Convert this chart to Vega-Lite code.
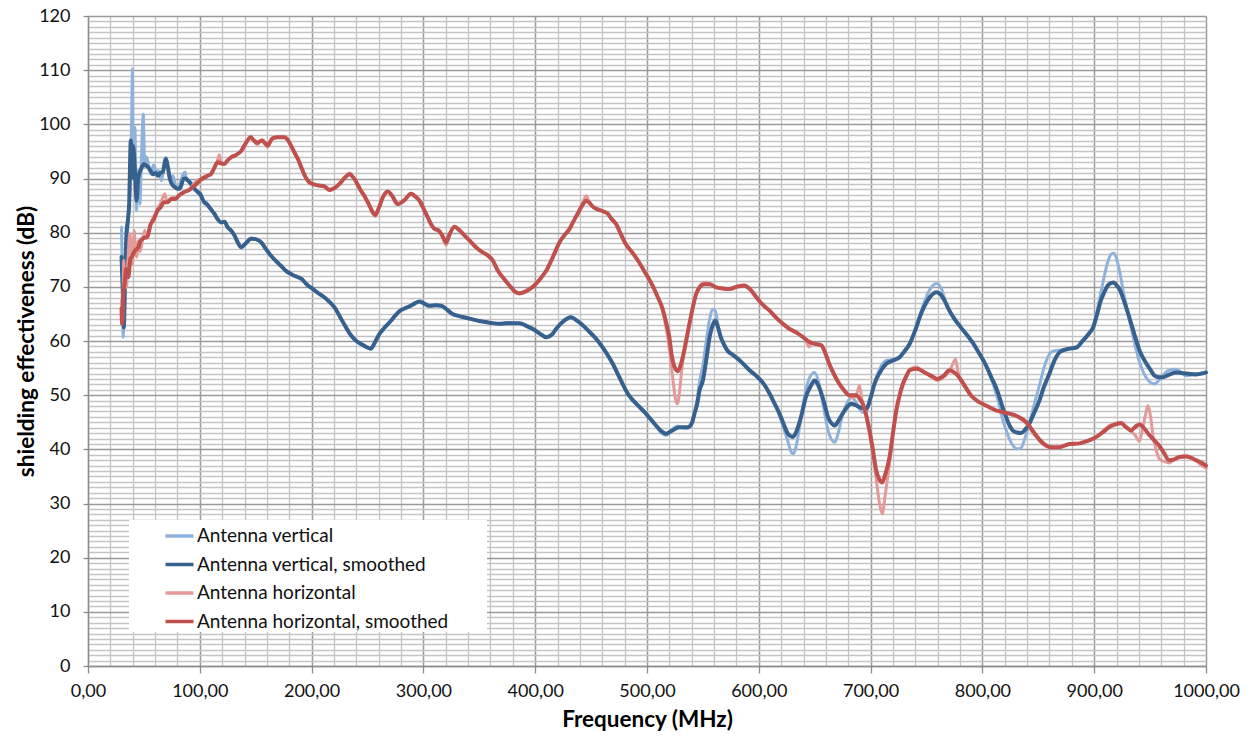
{
"$schema":"https://vega.github.io/schema/vega-lite/v6.json",
"width":1118,"height":650,
"autosize":{"type":"none"},
"padding":{"left":88,"top":16,"right":49,"bottom":71},
"background":"white",
"config":{"view":{"stroke":null},"font":"Lato"},
"datasets":{
"v":[{"f":30,"V":81},{"f":30.7,"V":72},{"f":31.5,"V":60.7},{"f":32.5,"V":68},{"f":34,"V":71.8},{"f":35,"V":78},{"f":36,"V":82.2},{"f":37.4,"V":87.2},{"f":38.2,"V":94},{"f":38.9,"V":99.4},{"f":39.8,"V":110.2},{"f":40.4,"V":93.3},{"f":41.2,"V":96},{"f":42,"V":99.4},{"f":42.7,"V":90},{"f":43.4,"V":84.1},{"f":44.2,"V":89},{"f":45,"V":91.5},{"f":46.4,"V":85.3},{"f":47.9,"V":94.5},{"f":49.4,"V":101.9},{"f":50.8,"V":92.1},{"f":52,"V":94},{"f":53,"V":93.6},{"f":55,"V":91.5},{"f":56.8,"V":90.8},{"f":58.3,"V":92.5},{"f":59.8,"V":92.1},{"f":61.3,"V":90.5},{"f":62.8,"V":91.5},{"f":65.7,"V":89.6},{"f":67.5,"V":91.5},{"f":69.6,"V":93.9},{"f":71.5,"V":92},{"f":73.2,"V":89.6},{"f":76,"V":90.5},{"f":79,"V":88.4},{"f":82,"V":89},{"f":85,"V":90.8},{"f":87,"V":91.2},{"f":88,"V":89.6},{"f":91,"V":89.5},{"f":94,"V":88.7},{"f":97,"V":87.8},{"f":100,"V":87.5},{"f":103,"V":86},{"f":106,"V":85.6},{"f":110,"V":84.4},{"f":113,"V":83.5},{"f":116,"V":82.4},{"f":119,"V":81.8},{"f":122,"V":82.1},{"f":125,"V":80.9},{"f":128,"V":80.3},{"f":131,"V":79.4},{"f":134,"V":78},{"f":137,"V":77.2},{"f":141,"V":78.1},{"f":146,"V":79},{"f":150,"V":78.8},{"f":155,"V":78.1},{"f":159,"V":77.1},{"f":163.5,"V":75.8},{"f":168,"V":74.8},{"f":172.5,"V":73.9},{"f":178,"V":72.7},{"f":184,"V":72.1},{"f":190.7,"V":71.5},{"f":196,"V":70.4},{"f":201,"V":69.6},{"f":207,"V":68.7},{"f":213,"V":67.8},{"f":220.5,"V":66.2},{"f":228,"V":63.4},{"f":235.4,"V":60.9},{"f":240,"V":60},{"f":244,"V":59.5},{"f":249,"V":58.9},{"f":253,"V":58.5},{"f":256,"V":59.5},{"f":260.7,"V":61.3},{"f":265,"V":62.4},{"f":270,"V":63.5},{"f":274,"V":64.5},{"f":278.6,"V":65.6},{"f":283,"V":66},{"f":287.6,"V":66.4},{"f":292,"V":67},{"f":296.5,"V":67.3},{"f":300,"V":67},{"f":305.5,"V":66.4},{"f":311,"V":66.7},{"f":316,"V":66.5},{"f":321,"V":65.8},{"f":326,"V":65},{"f":332,"V":64.6},{"f":338,"V":64.3},{"f":344,"V":64},{"f":350,"V":63.7},{"f":356,"V":63.5},{"f":362,"V":63.3},{"f":368,"V":63.1},{"f":375,"V":63.4},{"f":381,"V":63.3},{"f":386,"V":63.2},{"f":392,"V":62.8},{"f":398,"V":62.1},{"f":404,"V":61.3},{"f":410,"V":60.6},{"f":415,"V":61.2},{"f":419,"V":62.3},{"f":425,"V":63.7},{"f":432,"V":64.5},{"f":437,"V":63.8},{"f":442.6,"V":62.9},{"f":448,"V":61.7},{"f":454.5,"V":60.4},{"f":462,"V":58.3},{"f":469.4,"V":55.7},{"f":476,"V":53},{"f":484,"V":49.8},{"f":491,"V":48.3},{"f":499,"V":46.5},{"f":508,"V":44.3},{"f":513,"V":43},{"f":517,"V":42.6},{"f":522,"V":43.6},{"f":527,"V":44.3},{"f":531,"V":44},{"f":536.5,"V":43.9},{"f":540,"V":44.6},{"f":542.5,"V":46.8},{"f":545,"V":49.5},{"f":547,"V":52.5},{"f":550,"V":55.5},{"f":553,"V":60},{"f":556,"V":64},{"f":558.5,"V":65.8},{"f":561,"V":65.6},{"f":563.5,"V":63},{"f":566,"V":60.5},{"f":569,"V":59.4},{"f":572,"V":58.3},{"f":577,"V":57.4},{"f":583,"V":56.4},{"f":587,"V":55.6},{"f":591.7,"V":54.6},{"f":597,"V":53.7},{"f":602,"V":52.7},{"f":606,"V":51.6},{"f":609.6,"V":50.3},{"f":614,"V":48.4},{"f":618.5,"V":46.3},{"f":622,"V":44},{"f":626,"V":41.5},{"f":629,"V":39.5},{"f":631,"V":39.2},{"f":633,"V":40.2},{"f":636,"V":43.5},{"f":639,"V":47.5},{"f":642,"V":50.8},{"f":646,"V":53.5},{"f":650,"V":54.2},{"f":653,"V":52.8},{"f":656,"V":50},{"f":659,"V":46.5},{"f":662,"V":43.5},{"f":665,"V":41.8},{"f":668,"V":41.3},{"f":671,"V":43},{"f":675,"V":46.5},{"f":679,"V":48.6},{"f":683,"V":49.6},{"f":686,"V":49},{"f":690,"V":47.5},{"f":693,"V":46.8},{"f":696,"V":46.9},{"f":700,"V":49.5},{"f":703.5,"V":52.3},{"f":708,"V":54.8},{"f":714,"V":56.4},{"f":720,"V":56.6},{"f":726,"V":57.1},{"f":730,"V":58},{"f":735,"V":59.5},{"f":740,"V":62.2},{"f":744,"V":64.8},{"f":748,"V":67.2},{"f":753,"V":69.5},{"f":759,"V":70.6},{"f":763,"V":69.8},{"f":766,"V":68},{"f":770,"V":65.8},{"f":775,"V":64},{"f":780,"V":62.7},{"f":785.5,"V":61.3},{"f":791,"V":59.8},{"f":797.5,"V":57.6},{"f":803,"V":55.5},{"f":808,"V":53},{"f":812,"V":50.5},{"f":815.3,"V":48},{"f":818,"V":45.6},{"f":821.3,"V":43.5},{"f":824,"V":42},{"f":827,"V":40.8},{"f":831,"V":40.1},{"f":834.7,"V":40.3},{"f":838,"V":42},{"f":842,"V":44.8},{"f":846,"V":48},{"f":851,"V":51.8},{"f":855,"V":55},{"f":860,"V":57.6},{"f":864,"V":58.2},{"f":869,"V":58.3},{"f":874,"V":58.4},{"f":878,"V":58.6},{"f":884,"V":58.8},{"f":890,"V":60},{"f":895,"V":61.2},{"f":899,"V":62.5},{"f":902,"V":65},{"f":906,"V":69},{"f":909,"V":72},{"f":912,"V":74.5},{"f":915,"V":76},{"f":917.6,"V":76.2},{"f":920,"V":75.2},{"f":922.6,"V":73},{"f":926,"V":69.2},{"f":930,"V":65.3},{"f":934,"V":61.5},{"f":937.6,"V":58.3},{"f":941,"V":55.8},{"f":945,"V":53.8},{"f":950,"V":52.4},{"f":954,"V":52.1},{"f":958,"V":52.8},{"f":961,"V":53.6},{"f":967,"V":54.6},{"f":973,"V":54.8},{"f":978,"V":54.2},{"f":982,"V":53.6},{"f":987,"V":53.7},{"f":991,"V":54},{"f":996,"V":54},{"f":1000,"V":54.1}],
"vs":[{"f":30,"Vs":75.5},{"f":31,"Vs":70},{"f":32,"Vs":62.5},{"f":33,"Vs":70},{"f":34.4,"Vs":79.8},{"f":35.5,"Vs":82},{"f":36.8,"Vs":85.3},{"f":38.3,"Vs":97},{"f":39.5,"Vs":90.2},{"f":40.3,"Vs":96},{"f":41.3,"Vs":93.9},{"f":42.3,"Vs":90},{"f":43.4,"Vs":85.9},{"f":45,"Vs":90.2},{"f":47,"Vs":91.5},{"f":50,"Vs":92.7},{"f":52,"Vs":92.4},{"f":53.8,"Vs":92.1},{"f":56,"Vs":91.4},{"f":58.3,"Vs":90.8},{"f":60.6,"Vs":91},{"f":62.8,"Vs":90.5},{"f":65,"Vs":91.1},{"f":66.6,"Vs":91.1},{"f":69.6,"Vs":93.6},{"f":71.5,"Vs":92},{"f":73.2,"Vs":90},{"f":75,"Vs":89},{"f":77.7,"Vs":88.4},{"f":80,"Vs":88.1},{"f":82,"Vs":88.1},{"f":85.7,"Vs":90},{"f":87.5,"Vs":90},{"f":89.6,"Vs":89.6},{"f":92,"Vs":89},{"f":94,"Vs":88.4},{"f":98,"Vs":87.5},{"f":100,"Vs":87.2},{"f":104,"Vs":85.6},{"f":106,"Vs":85.3},{"f":110,"Vs":84.3},{"f":113,"Vs":83.5},{"f":116,"Vs":82.5},{"f":119,"Vs":81.9},{"f":122,"Vs":82},{"f":125,"Vs":81},{"f":128,"Vs":80.4},{"f":131,"Vs":79.5},{"f":134,"Vs":78.2},{"f":137,"Vs":77.3},{"f":141,"Vs":78},{"f":146,"Vs":78.9},{"f":150,"Vs":78.8},{"f":155,"Vs":78.2},{"f":159,"Vs":77},{"f":163.5,"Vs":75.8},{"f":168,"Vs":74.8},{"f":172.5,"Vs":73.9},{"f":178,"Vs":72.8},{"f":184,"Vs":72.1},{"f":190.7,"Vs":71.5},{"f":196,"Vs":70.4},{"f":201,"Vs":69.6},{"f":207,"Vs":68.7},{"f":213,"Vs":67.8},{"f":220.5,"Vs":66.2},{"f":228,"Vs":63.5},{"f":235.4,"Vs":61},{"f":240,"Vs":60},{"f":244,"Vs":59.5},{"f":249,"Vs":58.9},{"f":253,"Vs":58.6},{"f":256,"Vs":59.5},{"f":260.7,"Vs":61.3},{"f":265,"Vs":62.4},{"f":270,"Vs":63.5},{"f":274,"Vs":64.5},{"f":278.6,"Vs":65.5},{"f":283,"Vs":66},{"f":287.6,"Vs":66.4},{"f":292,"Vs":66.9},{"f":296.5,"Vs":67.3},{"f":300,"Vs":67},{"f":305.5,"Vs":66.5},{"f":311,"Vs":66.6},{"f":316,"Vs":66.5},{"f":321,"Vs":65.8},{"f":326,"Vs":65},{"f":332,"Vs":64.6},{"f":338,"Vs":64.3},{"f":344,"Vs":64},{"f":350,"Vs":63.7},{"f":356,"Vs":63.5},{"f":362,"Vs":63.3},{"f":368,"Vs":63.2},{"f":375,"Vs":63.3},{"f":381,"Vs":63.3},{"f":386,"Vs":63.3},{"f":392,"Vs":62.8},{"f":398,"Vs":62.2},{"f":404,"Vs":61.4},{"f":410,"Vs":60.7},{"f":415,"Vs":61.2},{"f":419,"Vs":62.3},{"f":425,"Vs":63.6},{"f":432,"Vs":64.4},{"f":437,"Vs":63.8},{"f":442.6,"Vs":62.9},{"f":448,"Vs":61.8},{"f":454.5,"Vs":60.4},{"f":462,"Vs":58.3},{"f":469.4,"Vs":55.8},{"f":476,"Vs":53},{"f":484,"Vs":49.9},{"f":491,"Vs":48.3},{"f":499,"Vs":46.6},{"f":508,"Vs":44.4},{"f":513,"Vs":43.3},{"f":517,"Vs":42.9},{"f":522,"Vs":43.4},{"f":529,"Vs":44.1},{"f":536.5,"Vs":44.1},{"f":540,"Vs":44.8},{"f":542.5,"Vs":46.6},{"f":545,"Vs":48.5},{"f":547,"Vs":50.9},{"f":550,"Vs":52.7},{"f":553,"Vs":56.5},{"f":556,"Vs":60.7},{"f":558.5,"Vs":62.8},{"f":561,"Vs":63.8},{"f":563.5,"Vs":62.5},{"f":566,"Vs":60.7},{"f":569,"Vs":59.3},{"f":572,"Vs":58.2},{"f":577,"Vs":57.4},{"f":583,"Vs":56.4},{"f":587,"Vs":55.6},{"f":591.7,"Vs":54.6},{"f":597,"Vs":53.7},{"f":602,"Vs":52.7},{"f":606,"Vs":51.6},{"f":609.6,"Vs":50.3},{"f":614,"Vs":48.5},{"f":618.5,"Vs":46.6},{"f":622,"Vs":44.8},{"f":626,"Vs":42.9},{"f":630.4,"Vs":42.3},{"f":633,"Vs":43},{"f":636,"Vs":44.7},{"f":639,"Vs":47},{"f":642,"Vs":49.6},{"f":646,"Vs":51.5},{"f":650,"Vs":52.7},{"f":653,"Vs":51.9},{"f":656,"Vs":50.3},{"f":659,"Vs":48.2},{"f":662,"Vs":45.9},{"f":665,"Vs":44.8},{"f":668,"Vs":44.4},{"f":671,"Vs":45.2},{"f":675,"Vs":46.6},{"f":679,"Vs":47.8},{"f":682.6,"Vs":48.4},{"f":686,"Vs":48.2},{"f":690,"Vs":47.8},{"f":693,"Vs":47.6},{"f":696,"Vs":47.5},{"f":700,"Vs":49.5},{"f":703.5,"Vs":52.1},{"f":708,"Vs":54.1},{"f":714,"Vs":55.8},{"f":720,"Vs":56.4},{"f":726,"Vs":57},{"f":730,"Vs":58},{"f":735,"Vs":59.5},{"f":740,"Vs":62},{"f":744,"Vs":64.4},{"f":748,"Vs":66.4},{"f":753,"Vs":68.1},{"f":759,"Vs":69},{"f":763,"Vs":68.5},{"f":766,"Vs":67.5},{"f":770,"Vs":65.8},{"f":775,"Vs":64.1},{"f":780,"Vs":62.7},{"f":785.5,"Vs":61.3},{"f":791,"Vs":59.8},{"f":797.5,"Vs":57.6},{"f":803,"Vs":55.6},{"f":808,"Vs":53.3},{"f":812,"Vs":51.5},{"f":815.3,"Vs":49.6},{"f":818,"Vs":47.8},{"f":821.3,"Vs":45.9},{"f":824,"Vs":44.5},{"f":827,"Vs":43.5},{"f":831,"Vs":43.1},{"f":834.7,"Vs":43},{"f":838,"Vs":43.6},{"f":842,"Vs":44.7},{"f":846,"Vs":46.6},{"f":851,"Vs":49},{"f":855,"Vs":51.5},{"f":860,"Vs":54},{"f":864,"Vs":56.2},{"f":869,"Vs":57.9},{"f":874,"Vs":58.4},{"f":878,"Vs":58.6},{"f":884,"Vs":58.8},{"f":890,"Vs":60.1},{"f":895,"Vs":61.3},{"f":899,"Vs":62.5},{"f":902,"Vs":64.5},{"f":906,"Vs":67.5},{"f":909,"Vs":69},{"f":912,"Vs":70.2},{"f":915,"Vs":70.7},{"f":917.6,"Vs":70.8},{"f":920,"Vs":70.3},{"f":922.6,"Vs":69.6},{"f":926,"Vs":67.8},{"f":930,"Vs":65.3},{"f":934,"Vs":62.6},{"f":937.6,"Vs":60.1},{"f":941,"Vs":58},{"f":945,"Vs":56.4},{"f":950,"Vs":54.8},{"f":954,"Vs":53.6},{"f":958,"Vs":53.3},{"f":961,"Vs":53.3},{"f":967,"Vs":53.8},{"f":973,"Vs":54.2},{"f":978,"Vs":54.1},{"f":982,"Vs":54},{"f":987,"Vs":53.9},{"f":991,"Vs":53.8},{"f":996,"Vs":54},{"f":1000,"Vs":54.2}],
"h":[{"f":30,"H":67.5},{"f":31,"H":63.8},{"f":32,"H":74.9},{"f":33,"H":70},{"f":34.4,"H":69.9},{"f":35.5,"H":74},{"f":37.4,"H":79.8},{"f":38.5,"H":77},{"f":39.8,"H":74.2},{"f":41.3,"H":80.4},{"f":42.3,"H":77},{"f":43.4,"H":75.5},{"f":45,"H":78.5},{"f":46.5,"H":76.5},{"f":47.9,"H":77.6},{"f":49.5,"H":79.5},{"f":50.8,"H":80.4},{"f":52.3,"H":79},{"f":53.8,"H":80.1},{"f":56,"H":81.5},{"f":58.3,"H":82.8},{"f":60,"H":83.3},{"f":62.8,"H":84.7},{"f":65,"H":85.5},{"f":68.7,"H":87.2},{"f":70.5,"H":85.8},{"f":73.2,"H":86.2},{"f":76,"H":86.5},{"f":79,"H":86.5},{"f":82,"H":87},{"f":85,"H":87.2},{"f":88,"H":87.8},{"f":91,"H":88},{"f":94,"H":88.8},{"f":97,"H":89.6},{"f":100,"H":89.8},{"f":104,"H":90.4},{"f":108,"H":90.6},{"f":112,"H":91.5},{"f":115,"H":92.8},{"f":117.5,"H":94.4},{"f":119,"H":92.7},{"f":122,"H":92.6},{"f":125,"H":93.3},{"f":128,"H":94},{"f":132,"H":94.3},{"f":137,"H":95},{"f":141,"H":96.3},{"f":145.6,"H":97.7},{"f":148,"H":97},{"f":151.6,"H":96.3},{"f":154,"H":96.8},{"f":156,"H":97.1},{"f":158,"H":96.4},{"f":160.6,"H":95.8},{"f":163,"H":96.7},{"f":165,"H":97.5},{"f":170,"H":97.7},{"f":175.5,"H":97.6},{"f":178,"H":97.2},{"f":181,"H":96.3},{"f":184.7,"H":94.7},{"f":188,"H":93.4},{"f":190.7,"H":92},{"f":194,"H":90.4},{"f":198,"H":89.2},{"f":202,"H":89},{"f":207,"H":88.6},{"f":211,"H":88.7},{"f":216,"H":87.8},{"f":220,"H":88.2},{"f":225,"H":89.1},{"f":229,"H":90},{"f":233.9,"H":91},{"f":238,"H":90},{"f":244,"H":87.7},{"f":248,"H":86.4},{"f":251.8,"H":84.9},{"f":254,"H":83.8},{"f":257,"H":83},{"f":260,"H":84.5},{"f":263.7,"H":86.6},{"f":268,"H":87.7},{"f":272,"H":86.8},{"f":277,"H":85.2},{"f":283,"H":86},{"f":289,"H":87.3},{"f":292,"H":86.8},{"f":296.5,"H":85.8},{"f":300,"H":84.4},{"f":304,"H":82.7},{"f":307,"H":81.4},{"f":310,"H":80.6},{"f":313,"H":80.4},{"f":316,"H":79.6},{"f":318,"H":78.6},{"f":320.4,"H":77.7},{"f":323,"H":79.3},{"f":327.8,"H":81.2},{"f":332,"H":80.5},{"f":336.8,"H":79.4},{"f":342,"H":78.4},{"f":347,"H":77.3},{"f":352,"H":76.5},{"f":357.6,"H":75.7},{"f":362,"H":74.8},{"f":366.5,"H":73},{"f":370,"H":72},{"f":374,"H":70.9},{"f":378,"H":69.9},{"f":382,"H":69},{"f":386,"H":68.7},{"f":392,"H":69.2},{"f":399,"H":70.3},{"f":405,"H":71.6},{"f":410,"H":73.1},{"f":416,"H":75.6},{"f":421.7,"H":78.3},{"f":426,"H":79.5},{"f":430.7,"H":80.7},{"f":434,"H":82.1},{"f":438,"H":83.6},{"f":442,"H":85.2},{"f":445.6,"H":86.8},{"f":448,"H":85.9},{"f":451,"H":84.9},{"f":454.6,"H":84.3},{"f":460,"H":84},{"f":465,"H":83.4},{"f":468,"H":82.6},{"f":472.4,"H":81.5},{"f":476,"H":80},{"f":481,"H":77.9},{"f":487,"H":76.3},{"f":493,"H":74.5},{"f":499,"H":72.4},{"f":505,"H":70.2},{"f":509,"H":68.3},{"f":514,"H":65.5},{"f":517,"H":62.5},{"f":520,"H":58.5},{"f":522,"H":55},{"f":524,"H":51.5},{"f":526,"H":48.8},{"f":527.5,"H":48.4},{"f":529,"H":50.5},{"f":531,"H":54.5},{"f":533,"H":57.8},{"f":535,"H":60.3},{"f":538,"H":63.5},{"f":541,"H":66.4},{"f":544,"H":68.9},{"f":547.5,"H":70.3},{"f":551,"H":70.8},{"f":556,"H":70.6},{"f":562,"H":69.8},{"f":568,"H":69.6},{"f":574,"H":69.7},{"f":580,"H":70.1},{"f":587,"H":70.4},{"f":592,"H":69.6},{"f":597.7,"H":68},{"f":603,"H":66.8},{"f":609.6,"H":65.6},{"f":615,"H":64.4},{"f":621.5,"H":63.1},{"f":627,"H":62.4},{"f":633.5,"H":61.5},{"f":639,"H":60.8},{"f":642,"H":60.2},{"f":645,"H":58.9},{"f":648,"H":59.7},{"f":652,"H":59.4},{"f":656,"H":59.2},{"f":660,"H":57.3},{"f":663,"H":55.6},{"f":667,"H":53.8},{"f":672,"H":52},{"f":676,"H":50.8},{"f":681,"H":49.8},{"f":684,"H":49.5},{"f":688,"H":50.5},{"f":690,"H":51.8},{"f":692,"H":49.5},{"f":696,"H":46},{"f":699,"H":43},{"f":702,"H":39},{"f":705,"H":34.5},{"f":708,"H":30},{"f":710.4,"H":28.1},{"f":713,"H":31.5},{"f":717,"H":37.5},{"f":720,"H":43},{"f":723,"H":47.5},{"f":726,"H":50.3},{"f":729,"H":52.4},{"f":732,"H":53.7},{"f":735,"H":54.8},{"f":741,"H":55.2},{"f":745,"H":54.7},{"f":750,"H":54},{"f":755,"H":53.2},{"f":760,"H":52.7},{"f":765,"H":53.3},{"f":770,"H":54.3},{"f":773,"H":55.5},{"f":776,"H":56.7},{"f":778,"H":54.5},{"f":781,"H":52.5},{"f":784,"H":51.5},{"f":790,"H":49.9},{"f":795,"H":49},{"f":800,"H":48.4},{"f":806,"H":47.8},{"f":812,"H":47.2},{"f":818,"H":46.9},{"f":824,"H":46.6},{"f":829,"H":46.3},{"f":833,"H":45.9},{"f":837,"H":45.2},{"f":840.6,"H":44.6},{"f":844,"H":43.4},{"f":848,"H":42.3},{"f":852,"H":41.3},{"f":857,"H":40.6},{"f":862,"H":40.3},{"f":869,"H":40.4},{"f":878,"H":41},{"f":887,"H":41.1},{"f":890,"H":41.3},{"f":896,"H":41.7},{"f":902,"H":42.3},{"f":908,"H":43.4},{"f":913.6,"H":44.4},{"f":919,"H":44.8},{"f":924,"H":45},{"f":928,"H":44.2},{"f":933,"H":43.3},{"f":937,"H":42.5},{"f":940.5,"H":41.5},{"f":943,"H":43.5},{"f":946,"H":46.5},{"f":948,"H":48.1},{"f":950,"H":46.5},{"f":953,"H":42},{"f":956,"H":39.5},{"f":958,"H":38.3},{"f":962,"H":37.8},{"f":967,"H":37.5},{"f":971,"H":38},{"f":976.4,"H":38.7},{"f":982,"H":38.8},{"f":987,"H":38.5},{"f":991,"H":38},{"f":996,"H":37},{"f":1000,"H":36.5}],
"hs":[{"f":30,"Hs":66},{"f":30.5,"Hs":63.2},{"f":31.5,"Hs":68.7},{"f":33,"Hs":71},{"f":34,"Hs":73.3},{"f":36,"Hs":71.8},{"f":38,"Hs":75.2},{"f":39,"Hs":75.5},{"f":42,"Hs":76.7},{"f":45,"Hs":77.3},{"f":47,"Hs":78.5},{"f":50,"Hs":79},{"f":53,"Hs":79.2},{"f":56,"Hs":81.5},{"f":59,"Hs":82.5},{"f":62,"Hs":84},{"f":65,"Hs":84.7},{"f":68,"Hs":85.6},{"f":71,"Hs":85.6},{"f":74.7,"Hs":86.2},{"f":78.5,"Hs":86.2},{"f":81,"Hs":86.8},{"f":86,"Hs":87.5},{"f":90,"Hs":87.8},{"f":93.5,"Hs":88.4},{"f":97,"Hs":89},{"f":101,"Hs":89.8},{"f":104.5,"Hs":90.2},{"f":108,"Hs":90.6},{"f":110,"Hs":90.8},{"f":113,"Hs":92},{"f":116,"Hs":93},{"f":119,"Hs":92.8},{"f":122,"Hs":92.7},{"f":125,"Hs":93.4},{"f":128,"Hs":93.9},{"f":132,"Hs":94.3},{"f":137,"Hs":95.1},{"f":141,"Hs":96.5},{"f":145.6,"Hs":97.6},{"f":148,"Hs":97.1},{"f":151.6,"Hs":96.6},{"f":154,"Hs":96.9},{"f":156,"Hs":97},{"f":158,"Hs":96.6},{"f":160.6,"Hs":96.1},{"f":163,"Hs":96.8},{"f":165,"Hs":97.4},{"f":170,"Hs":97.6},{"f":175.5,"Hs":97.6},{"f":178,"Hs":97.3},{"f":181,"Hs":96.3},{"f":184.7,"Hs":94.8},{"f":188,"Hs":93.5},{"f":190.7,"Hs":92.1},{"f":194,"Hs":90.5},{"f":198,"Hs":89.3},{"f":202,"Hs":88.9},{"f":207,"Hs":88.7},{"f":211,"Hs":88.6},{"f":216,"Hs":87.9},{"f":220,"Hs":88.2},{"f":225,"Hs":89},{"f":229,"Hs":90},{"f":233.9,"Hs":90.8},{"f":238,"Hs":90},{"f":244,"Hs":87.8},{"f":248,"Hs":86.5},{"f":251.8,"Hs":85},{"f":254,"Hs":84},{"f":257,"Hs":83.3},{"f":260,"Hs":84.5},{"f":263.7,"Hs":86.5},{"f":268,"Hs":87.6},{"f":272,"Hs":86.8},{"f":277,"Hs":85.3},{"f":283,"Hs":86},{"f":289,"Hs":87.2},{"f":292,"Hs":86.8},{"f":296.5,"Hs":85.9},{"f":300,"Hs":84.5},{"f":304,"Hs":82.8},{"f":307,"Hs":81.5},{"f":310,"Hs":80.7},{"f":313,"Hs":80.5},{"f":316,"Hs":79.8},{"f":318,"Hs":79},{"f":320.4,"Hs":78.2},{"f":323,"Hs":79.5},{"f":327.8,"Hs":81.1},{"f":332,"Hs":80.5},{"f":336.8,"Hs":79.5},{"f":342,"Hs":78.4},{"f":347,"Hs":77.3},{"f":352,"Hs":76.5},{"f":357.6,"Hs":75.8},{"f":362,"Hs":74.9},{"f":366.5,"Hs":73},{"f":370,"Hs":72},{"f":374,"Hs":71},{"f":378,"Hs":70},{"f":382,"Hs":69.1},{"f":386,"Hs":68.8},{"f":392,"Hs":69.2},{"f":399,"Hs":70.2},{"f":405,"Hs":71.6},{"f":410,"Hs":73},{"f":416,"Hs":75.6},{"f":421.7,"Hs":78.2},{"f":426,"Hs":79.5},{"f":430.7,"Hs":80.7},{"f":434,"Hs":82},{"f":438,"Hs":83.5},{"f":442,"Hs":85},{"f":445.6,"Hs":85.9},{"f":448,"Hs":85.6},{"f":451,"Hs":84.9},{"f":454.6,"Hs":84.4},{"f":460,"Hs":84},{"f":465,"Hs":83.5},{"f":468,"Hs":82.6},{"f":472.4,"Hs":81.6},{"f":476,"Hs":80},{"f":481,"Hs":77.9},{"f":487,"Hs":76.3},{"f":493,"Hs":74.5},{"f":499,"Hs":72.4},{"f":505,"Hs":70.2},{"f":509,"Hs":68.4},{"f":514,"Hs":65.9},{"f":517,"Hs":63.5},{"f":520,"Hs":60.7},{"f":522,"Hs":57.5},{"f":523.7,"Hs":55.8},{"f":525.5,"Hs":54.8},{"f":527.5,"Hs":54.4},{"f":529.5,"Hs":55.2},{"f":532,"Hs":57},{"f":535,"Hs":60},{"f":538,"Hs":63.2},{"f":541,"Hs":66.2},{"f":544,"Hs":68.7},{"f":547.5,"Hs":70},{"f":551,"Hs":70.5},{"f":556,"Hs":70.5},{"f":562,"Hs":69.9},{"f":568,"Hs":69.7},{"f":574,"Hs":69.6},{"f":580,"Hs":70},{"f":587,"Hs":70.2},{"f":592,"Hs":69.6},{"f":597.7,"Hs":68.1},{"f":603,"Hs":66.8},{"f":609.6,"Hs":65.6},{"f":615,"Hs":64.4},{"f":621.5,"Hs":63.2},{"f":627,"Hs":62.3},{"f":633.5,"Hs":61.6},{"f":639,"Hs":60.8},{"f":645.4,"Hs":59.8},{"f":650,"Hs":59.5},{"f":656,"Hs":59.2},{"f":660,"Hs":57.5},{"f":663,"Hs":55.8},{"f":667,"Hs":54},{"f":672,"Hs":52.1},{"f":676,"Hs":51},{"f":681,"Hs":50},{"f":687,"Hs":50},{"f":690,"Hs":49.4},{"f":693,"Hs":48.4},{"f":696,"Hs":46.4},{"f":699,"Hs":43.5},{"f":702,"Hs":40},{"f":705,"Hs":36.1},{"f":708,"Hs":34.4},{"f":710.4,"Hs":33.9},{"f":713,"Hs":35.3},{"f":717,"Hs":38.6},{"f":720,"Hs":43},{"f":723,"Hs":47.2},{"f":726,"Hs":50},{"f":729,"Hs":52.1},{"f":732,"Hs":53.5},{"f":735,"Hs":54.6},{"f":741,"Hs":54.9},{"f":745,"Hs":54.6},{"f":750,"Hs":54},{"f":755,"Hs":53.5},{"f":760,"Hs":53},{"f":765,"Hs":53.5},{"f":770.6,"Hs":54.6},{"f":774,"Hs":54.3},{"f":778,"Hs":53.6},{"f":784,"Hs":51.8},{"f":790,"Hs":49.9},{"f":795,"Hs":49},{"f":800,"Hs":48.4},{"f":806,"Hs":47.8},{"f":812,"Hs":47.2},{"f":818,"Hs":46.9},{"f":824,"Hs":46.6},{"f":829,"Hs":46.3},{"f":833,"Hs":45.9},{"f":837,"Hs":45.4},{"f":840.6,"Hs":44.7},{"f":844,"Hs":43.7},{"f":848,"Hs":42.6},{"f":852,"Hs":41.6},{"f":857,"Hs":40.7},{"f":862,"Hs":40.4},{"f":869,"Hs":40.4},{"f":878,"Hs":41},{"f":887,"Hs":41.1},{"f":890,"Hs":41.3},{"f":896,"Hs":41.7},{"f":902,"Hs":42.3},{"f":908,"Hs":43.2},{"f":913.6,"Hs":44.1},{"f":919,"Hs":44.6},{"f":924,"Hs":44.8},{"f":928,"Hs":44.2},{"f":933,"Hs":43.5},{"f":937,"Hs":44.2},{"f":940.5,"Hs":44.6},{"f":945,"Hs":43.8},{"f":949.5,"Hs":42.6},{"f":954,"Hs":41.6},{"f":958,"Hs":40.7},{"f":962,"Hs":39.5},{"f":967,"Hs":38},{"f":971,"Hs":38.1},{"f":976.4,"Hs":38.6},{"f":982,"Hs":38.7},{"f":987,"Hs":38.4},{"f":991,"Hs":38},{"f":996,"Hs":37.5},{"f":1000,"Hs":37}]
},
"encoding":{
 "x":{"field":"f","type":"quantitative","scale":{"domain":[0,1000],"nice":false,"zero":false},
  "axis":{"values":[0,20,40,60,80,100,120,140,160,180,200,220,240,260,280,300,320,340,360,380,400,420,440,460,480,500,520,540,560,580,600,620,640,660,680,700,720,740,760,780,800,820,840,860,880,900,920,940,960,980,1000],
   "grid":true,
   "gridColor":{"condition":{"test":"datum.value % 100 === 0","value":"#999999"},"value":"#c4c4c4"},
   "gridWidth":{"condition":{"test":"datum.value % 100 === 0","value":1.5},"value":1.3},
   "labelExpr":"datum.value % 100 === 0 ? replace(format(datum.value,'.2f'),'.',',') : ''",
   "labelOverlap":false,"labelFlush":false,"labelFont":"Lato","labelFontSize":18,"labelColor":"#111111","labelPadding":9,
   "tickSize":7,"tickColor":"#8c8c8c","tickWidth":1.3,
   "tickOpacity":{"condition":{"test":"datum.value % 100 === 0","value":1},"value":0},
   "domain":true,"domainColor":"#8c8c8c","domainWidth":1.3,
   "title":"Frequency (MHz)","titleFont":"Lato","titleFontSize":22.5,"titleFontWeight":"bold","titleColor":"#000000","titlePadding":8}},
 "y":{"field":"v","type":"quantitative","scale":{"domain":[0,120],"nice":false,"zero":false},
  "axis":{"values":[0,1,2,3,4,5,6,7,8,9,10,11,12,13,14,15,16,17,18,19,20,21,22,23,24,25,26,27,28,29,30,31,32,33,34,35,36,37,38,39,40,41,42,43,44,45,46,47,48,49,50,51,52,53,54,55,56,57,58,59,60,61,62,63,64,65,66,67,68,69,70,71,72,73,74,75,76,77,78,79,80,81,82,83,84,85,86,87,88,89,90,91,92,93,94,95,96,97,98,99,100,101,102,103,104,105,106,107,108,109,110,111,112,113,114,115,116,117,118,119,120],
   "grid":true,
   "gridColor":{"condition":{"test":"datum.value % 10 === 0","value":"#999999"},"value":"#c4c4c4"},
   "gridWidth":{"condition":{"test":"datum.value % 10 === 0","value":1.5},"value":1.3},
   "labelExpr":"datum.value % 10 === 0 ? datum.label : ''",
   "labelOverlap":false,"labelFont":"Lato","labelFontSize":18,"labelColor":"#111111","labelPadding":13,
   "tickSize":5,"tickColor":"#8c8c8c","tickWidth":1.3,
   "tickOpacity":{"condition":{"test":"datum.value % 10 === 0","value":1},"value":0},
   "domain":true,"domainColor":"#8c8c8c","domainWidth":1.3,
   "title":"shielding effectiveness (dB)","titleFont":"Lato","titleFontSize":22.5,"titleFontWeight":"bold","titleColor":"#000000","titlePadding":0}},
 "color":{"field":"s","type":"nominal",
  "scale":{"domain":["V","Vs","H","Hs"],"range":["#8fb2dc","#36618f","#e39a99","#c0504d"]},
  "legend":{"orient":"none","legendX":41,"legendY":504,"title":"0000","titleOrient":"right","titleColor":"white","titleFont":"Lato","titleFontSize":16.4,"titleFontWeight":"normal","titlePadding":0,
   "fillColor":"white","padding":0,
   "symbolType":"stroke","symbolSize":784,"symbolStrokeWidth":3.5,"symbolOffset":34.5,"labelOffset":1.4,"rowPadding":2.5,
   "labelFont":"Lato","labelFontSize":19,"labelColor":"#111111","labelLimit":600,
   "labelExpr":"datum.value == 'V' ? 'Antenna vertical' : datum.value == 'Vs' ? 'Antenna vertical,  smoothed' : datum.value == 'H' ? 'Antenna horizontal' : 'Antenna horizontal, smoothed'"}}
},
"layer":[
{"data":{"name":"v"},"transform":[{"fold":["V"],"as":["s","v"]}],
 "mark":{"type":"line","strokeWidth":3,"interpolate":"monotone","strokeJoin":"round","strokeCap":"round"}},
{"data":{"name":"vs"},"transform":[{"fold":["Vs"],"as":["s","v"]}],
 "mark":{"type":"line","strokeWidth":4,"interpolate":"monotone","strokeJoin":"round","strokeCap":"round"}},
{"data":{"name":"h"},"transform":[{"fold":["H"],"as":["s","v"]}],
 "mark":{"type":"line","strokeWidth":3,"interpolate":"monotone","strokeJoin":"round","strokeCap":"round"}},
{"data":{"name":"hs"},"transform":[{"fold":["Hs"],"as":["s","v"]}],
 "mark":{"type":"line","strokeWidth":4,"interpolate":"monotone","strokeJoin":"round","strokeCap":"round"}}
]
}
